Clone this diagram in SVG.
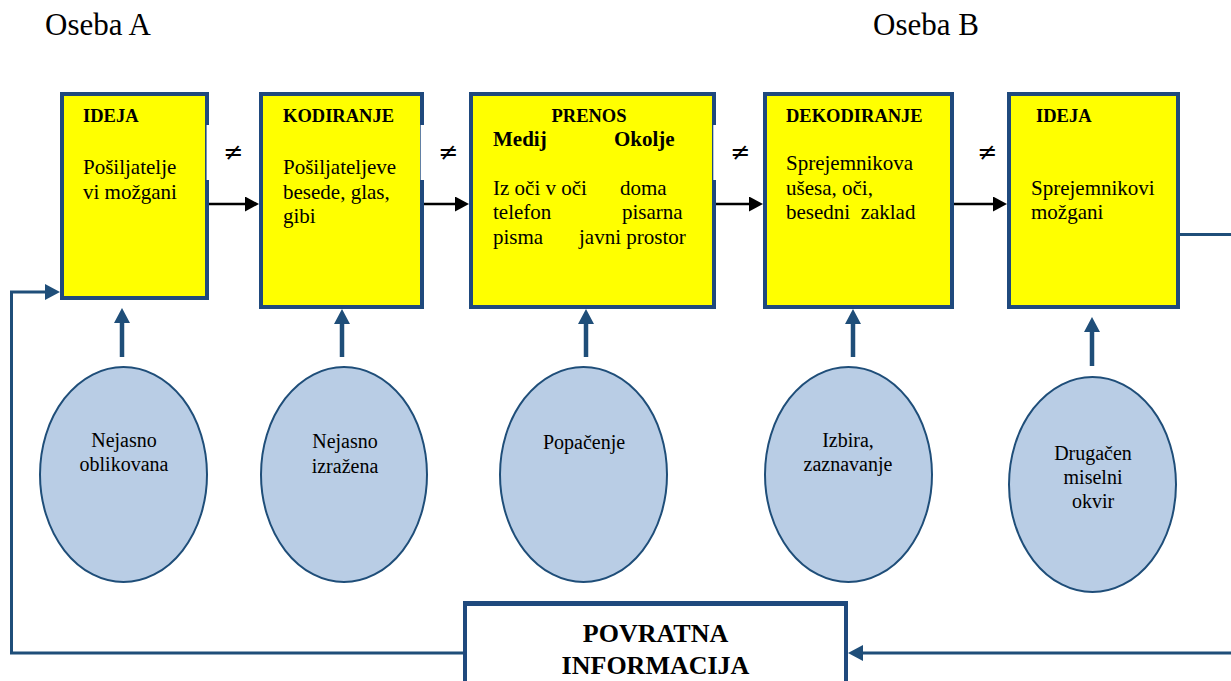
<svg xmlns="http://www.w3.org/2000/svg" width="1231" height="681" viewBox="0 0 1231 681">
<style>
.box{fill:#FFFF00;stroke:#1F497D;stroke-width:4}
.gap{fill:#FFFFFF}
.ell{fill:#B9CDE5;stroke:#1F4E79;stroke-width:2}
.t{font-family:"Liberation Serif","Times New Roman",serif;fill:#000}
.h{font-size:18.5px;font-weight:bold}
.hb{font-size:21px;font-weight:bold}
.b{font-size:21px}
.e{font-size:20px;text-anchor:middle}
.ne{font-family:"DejaVu Sans",sans-serif;font-size:24px;text-anchor:middle;fill:#000}
.os{font-size:31px}
.fb{font-size:26px;font-weight:bold;text-anchor:middle}
.blk{stroke:#000;stroke-width:2.5;fill:none}
.blu{stroke:#1F4E79;stroke-width:4.5;fill:none}
.fbl{stroke:#1F4E79;stroke-width:3;fill:none}
</style>
<defs>
<marker id="ah" markerUnits="userSpaceOnUse" viewBox="0 0 14 15" refX="4" refY="7.5" markerWidth="14" markerHeight="15" orient="auto">
<path d="M0,0 L14,7.5 L0,15 Z" fill="#000"/>
</marker>
<marker id="bh" markerUnits="userSpaceOnUse" viewBox="0 0 15 16" refX="4" refY="8" markerWidth="15" markerHeight="16" orient="auto">
<path d="M0,0 L15,8 L0,16 Z" fill="#1F4E79"/>
</marker>
</defs>
<rect width="1231" height="681" fill="#FFFFFF"/>

<g id="labels">
<text class="t os" x="45" y="35">Oseba A</text>
<text class="t os" x="873" y="35">Oseba B</text>
</g>

<g id="node-ideja-a">
<rect class="box" x="62" y="94" width="145" height="204"/>
<rect class="gap" x="206.6" y="125" width="4" height="55"/>
<text class="t h" x="83" y="122">IDEJA</text>
<text class="t b" x="83" y="174">Pošiljatelje</text>
<text class="t b" x="83" y="199">vi možgani</text>
</g>

<g id="node-kodiranje">
<rect class="box" x="261" y="94" width="161" height="213"/>
<rect class="gap" x="420.7" y="125" width="4" height="55"/>
<text class="t h" x="283" y="122">KODIRANJE</text>
<text class="t b" x="283" y="174">Pošiljateljeve</text>
<text class="t b" x="283" y="199">besede, glas,</text>
<text class="t b" x="283" y="223">gibi</text>
</g>

<g id="node-prenos">
<rect class="box" x="471" y="94" width="243" height="213"/>
<rect class="gap" x="713.3" y="125" width="4" height="55"/>
<text class="t h" x="589" y="122" text-anchor="middle">PRENOS</text>
<text class="t hb" x="493" y="146">Medij</text>
<text class="t hb" x="614" y="146">Okolje</text>
<text class="t b" x="493" y="195">Iz oči v oči</text>
<text class="t b" x="620" y="195">doma</text>
<text class="t b" x="493" y="219">telefon</text>
<text class="t b" x="622" y="219">pisarna</text>
<text class="t b" x="493" y="244">pisma</text>
<text class="t b" x="579" y="244">javni prostor</text>
</g>

<g id="node-dekodiranje">
<rect class="box" x="765" y="94" width="187" height="213"/>
<text class="t h" x="786" y="122">DEKODIRANJE</text>
<text class="t b" x="786" y="170">Sprejemnikova</text>
<text class="t b" x="786" y="195">ušesa, oči,</text>
<text class="t b" x="786" y="219" xml:space="preserve">besedni  zaklad</text>
</g>

<g id="node-ideja-b">
<rect class="box" x="1009" y="94" width="169" height="213"/>
<text class="t h" x="1036" y="122">IDEJA</text>
<text class="t b" x="1031" y="195">Sprejemnikovi</text>
<text class="t b" x="1031" y="219">možgani</text>
</g>

<g id="node-e1">
<ellipse class="ell" cx="123.5" cy="474.5" rx="83.5" ry="107.5"/>
<text class="t e" x="124" y="447">Nejasno</text>
<text class="t e" x="124" y="471">oblikovana</text>
</g>
<g id="node-e2">
<ellipse class="ell" cx="344" cy="474.5" rx="83" ry="107.5"/>
<text class="t e" x="345" y="448">Nejasno</text>
<text class="t e" x="345" y="473">izražena</text>
</g>
<g id="node-e3">
<ellipse class="ell" cx="583.5" cy="474.5" rx="83.5" ry="107.5"/>
<text class="t e" x="584" y="449">Popačenje</text>
</g>
<g id="node-e4">
<ellipse class="ell" cx="848.5" cy="474.5" rx="83.5" ry="107.5"/>
<text class="t e" x="848" y="447">Izbira,</text>
<text class="t e" x="848" y="471">zaznavanje</text>
</g>
<g id="node-e5">
<ellipse class="ell" cx="1092.5" cy="484.5" rx="83.5" ry="107.5"/>
<text class="t e" x="1093" y="460">Drugačen</text>
<text class="t e" x="1093" y="484">miselni</text>
<text class="t e" x="1093" y="508">okvir</text>
</g>

<g id="node-povratna">
<rect x="465" y="603" width="381" height="100" fill="#FFFFFF" stroke="#1F497D" stroke-width="4"/>
<line x1="463" y1="603.5" x2="848" y2="603.5" stroke="#1F497D" stroke-width="5"/>
<text class="t fb" x="655.5" y="642">POVRATNA</text>
<text class="t fb" x="655.5" y="674">INFORMACIJA</text>
</g>

<g id="connectors">
<line class="blk" x1="209" y1="204" x2="249" y2="204" marker-end="url(#ah)"/>
<line class="blk" x1="424" y1="204" x2="459" y2="204" marker-end="url(#ah)"/>
<line class="blk" x1="716" y1="204" x2="753" y2="204" marker-end="url(#ah)"/>
<line class="blk" x1="954" y1="204" x2="997" y2="204" marker-end="url(#ah)"/>
<text class="ne" x="233" y="160">≠</text>
<text class="ne" x="448" y="160">≠</text>
<text class="ne" x="740" y="160">≠</text>
<text class="ne" x="987" y="160">≠</text>
<line class="blu" x1="122" y1="357" x2="122" y2="319" marker-end="url(#bh)"/>
<line class="blu" x1="342" y1="357" x2="342" y2="320" marker-end="url(#bh)"/>
<line class="blu" x1="586" y1="357" x2="586" y2="320" marker-end="url(#bh)"/>
<line class="blu" x1="853" y1="357" x2="853" y2="320" marker-end="url(#bh)"/>
<line class="blu" x1="1092" y1="366" x2="1092" y2="328" marker-end="url(#bh)"/>
<path class="fbl" d="M1180,234.5 H1245 V653 H859" marker-end="url(#bh)"/>
<path class="fbl" d="M463,653 H11.5 V292 H49" marker-end="url(#bh)"/>
</g>
</svg>
